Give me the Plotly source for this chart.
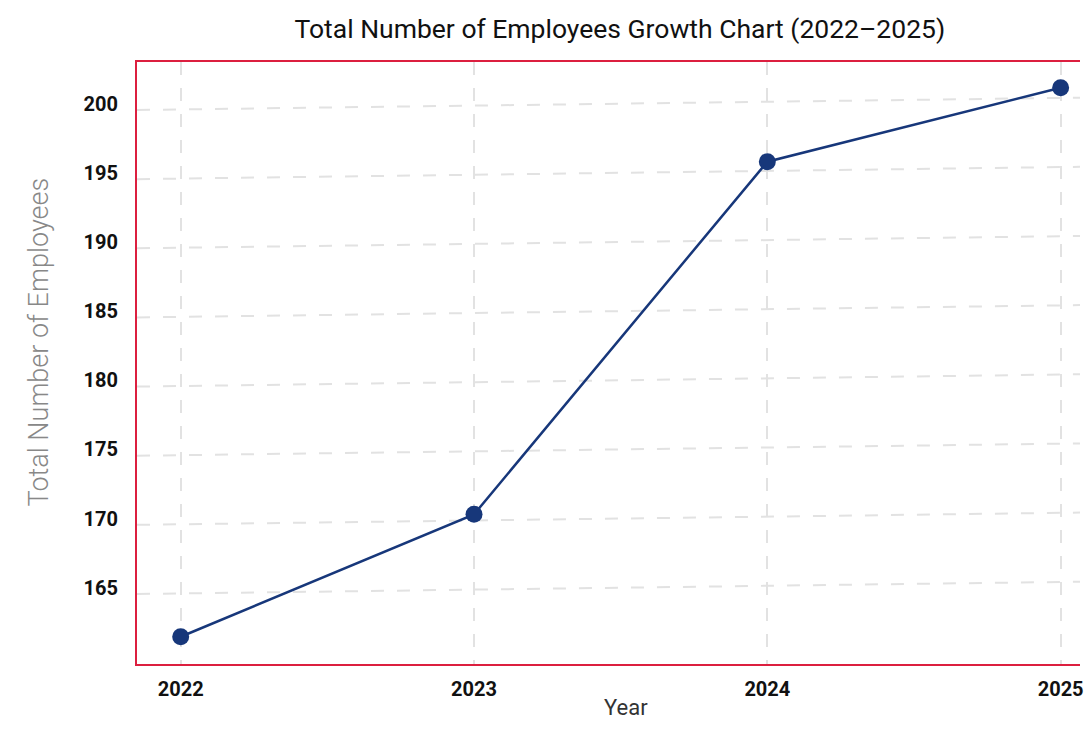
import plotly.graph_objects as go

years = [2022, 2023, 2024, 2025]
employees = [161.45, 170.3, 195.8, 201.15]
y_ticks = [165, 170, 175, 180, 185, 190, 195, 200]
x_ticks = [2022, 2023, 2024, 2025]

navy = "#17377A"
red = "#DC1F3F"
grid = "#E2E2E2"

fig = go.Figure()
fig.add_trace(go.Scatter(
    x=years, y=employees, mode="lines+markers",
    line=dict(color=navy, width=2.5),
    marker=dict(color=navy, size=17),
    showlegend=False,
))

# slightly tilted dashed horizontal grid lines
for v in y_ticks:
    fig.add_shape(type="line", xref="paper", yref="y", x0=0, x1=1,
                  y0=v - 0.46, y1=v + 0.43, layer="below",
                  line=dict(color=grid, width=2, dash="13px,13px"))

# axis titles
fig.add_annotation(text="Total Number of Employees", textangle=-90,
                   xref="paper", yref="paper", x=-0.1045, y=0.535,
                   xanchor="center", yanchor="middle", showarrow=False,
                   font=dict(size=27, color="#888", weight=300))
fig.add_annotation(text="Year", xref="paper", yref="paper", x=0.5185, y=-0.0955,
                   xanchor="center", yanchor="bottom", showarrow=False,
                   borderpad=0,
                   font=dict(size=22, color="#333"))

fig.update_layout(
    width=1076, height=714,
    margin=dict(l=129, r=0, t=54, b=58),
    paper_bgcolor="white", plot_bgcolor="white",
    font=dict(family="Roboto", color="#111"),
    title=dict(text="Total Number of Employees Growth Chart (2022–2025)",
               x=0.512, xref="paper", xanchor="center",
               y=1 - 21 / 714, yref="container", yanchor="middle",
               font=dict(size=26.5, color="#111", family="Roboto")),
)
fig.update_xaxes(
    range=[2021.851, 2025.066], tickvals=x_ticks, ticktext=[str(t) for t in x_ticks],
    showgrid=True, gridcolor=grid, gridwidth=2, griddash="13px,13px",
    zeroline=False, showline=True, linecolor=red, linewidth=2, mirror=True,
    ticks="outside", ticklen=6, tickcolor="rgba(0,0,0,0)",
    ticklabeloverflow="allow",
    tickfont=dict(size=20, weight="bold", color="#111"),
)
fig.update_yaxes(
    range=[159.48, 203.01], tickvals=y_ticks,
    showgrid=False, zeroline=False,
    showline=True, linecolor=red, linewidth=2, mirror=False,
    ticks="outside", ticklen=13, tickcolor="rgba(0,0,0,0)",
    tickfont=dict(size=20, weight="bold", color="#111"),
)

fig.write_html("out.html")
